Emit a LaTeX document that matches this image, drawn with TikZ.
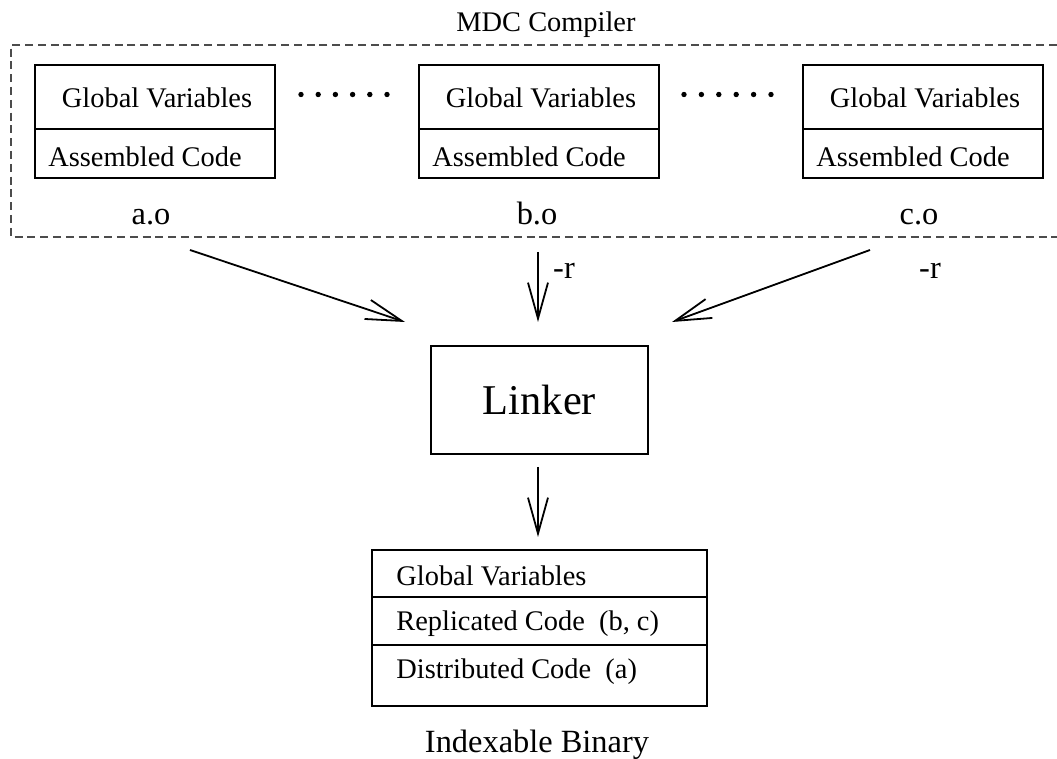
\documentclass[tikz,border=0pt]{standalone}
\usepackage{fontspec}
\setmainfont{Liberation Serif}
\usetikzlibrary{arrows.meta}
\begin{document}
\begin{tikzpicture}[x=0.5pt,y=-0.5pt,
  filebox/.style={draw, line width=0.75pt, inner sep=0pt, minimum width=120pt, minimum height=56.5pt},
  txt/.style={inner sep=0pt, font=\fontsize{14.2}{17}\selectfont},
  bigtxt/.style={inner sep=0pt, font=\fontsize{16.2}{19}\selectfont},
  arr/.style={line width=0.9pt, -{Straight Barb[length=18pt,width=10pt,line width=0.9pt]}},
  dashbox/.style={line width=0.6pt, draw=black!70, dash pattern=on 4pt off 2.4pt}]
\useasboundingbox (0,0) rectangle (1057,759);

% compiler dashed region
\draw[dashbox] (1057,45) -- (11,45) -- (11,237) -- (1057,237);
\node[txt] (mdc) at (546,25) {MDC Compiler};

% object files
\node[filebox] (fa) at (155,121.5) {};
\node[filebox] (fb) at (539,121.5) {};
\node[filebox] (fc) at (923,121.5) {};
\foreach \f in {fa,fb,fc}{
  \draw[line width=0.75pt] ([yshift=-32.5pt]\f.north west) -- ([yshift=-32.5pt]\f.north east);
}
\node[txt] (ga) at (157,98) {Global Variables};
\node[txt] (gb) at (541,98) {Global Variables};
\node[txt] (gc) at (925,98) {Global Variables};
\node[txt,anchor=west] (aa) at (48,157) {Assembled Code};
\node[txt,anchor=west] (ab) at (432,157) {Assembled Code};
\node[txt,anchor=west] (ac) at (816,157) {Assembled Code};

% ellipsis dots
\foreach \i in {0,...,5}{
  \fill (301+\i*17.2,94.5) circle (1.35pt);
  \fill (684+\i*17.4,94.5) circle (1.35pt);
}

\node[bigtxt,anchor=base] (lao) at (151,225) {a.o};
\node[bigtxt,anchor=base] (lbo) at (537,225) {b.o};
\node[bigtxt,anchor=base] (lco) at (919,225) {c.o};

% linker
\node[draw, line width=0.8pt, minimum width=108.5pt, minimum height=54pt, inner sep=0pt,
      font=\fontsize{21.2}{25}\selectfont] (linker) at (539.5,400) {Linker};

\coordinate (sa) at (190,250);
\coordinate (ea) at (405,322);
\coordinate (sb) at (538,252);
\coordinate (eb) at (538,322);
\coordinate (sc) at (870,250);
\coordinate (ec) at (672,322);
\draw[arr] (sa) -- (ea);
\draw[arr] (sb) -- (eb);
\draw[arr] (sc) -- (ec);
\node[bigtxt] (rb) at (564,271) {-r};
\node[bigtxt] (rc) at (930,271) {-r};

% output binary
\node[draw, line width=0.75pt, minimum width=167.5pt, minimum height=78pt, inner sep=0pt] (bin) at (539.5,628) {};
\draw[line width=0.75pt] ([yshift=-24pt]bin.north west) -- ([yshift=-24pt]bin.north east);
\draw[line width=0.75pt] ([yshift=-48pt]bin.north west) -- ([yshift=-48pt]bin.north east);
\node[txt,anchor=west] (bg) at (396,576) {Global Variables};
\node[txt,anchor=west] (br) at (396,624) {Replicated Code\ \ (b, c)};
\node[txt,anchor=west] (bd) at (396,672) {Distributed Code\ \ (a)};

\coordinate (sl) at (538,467);
\coordinate (el) at (538,537);
\draw[arr] (sl) -- (el);

\node[bigtxt] (ib) at (537,745) {Indexable Binary};
\end{tikzpicture}
\end{document}
